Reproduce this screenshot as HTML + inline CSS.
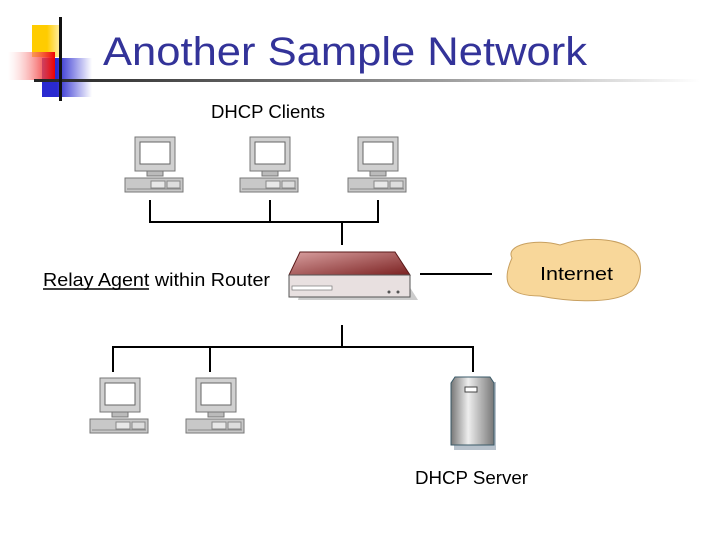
<!DOCTYPE html>
<html><head><style>body{margin:0;background:#fff}svg{display:block}</style></head><body>
<svg width="720" height="540" viewBox="0 0 720 540" xmlns="http://www.w3.org/2000/svg" font-family="Liberation Sans, sans-serif">
<defs>
<linearGradient id="red" x1="1" x2="0"><stop offset="0" stop-color="#e00"/><stop offset="1" stop-color="#fff" stop-opacity="0.3"/></linearGradient>
<linearGradient id="blue" x1="0" x2="1"><stop offset="0.3" stop-color="#2a2ad0"/><stop offset="1" stop-color="#fff"/></linearGradient>
<linearGradient id="yel" x1="0" x2="1"><stop offset="0.5" stop-color="#ffcc00"/><stop offset="1" stop-color="#fff3c0"/></linearGradient>
<linearGradient id="hl" x1="0" x2="1"><stop offset="0" stop-color="#222"/><stop offset="0.6" stop-color="#999"/><stop offset="1" stop-color="#fff"/></linearGradient>
<linearGradient id="rt" x1="0" y1="0" x2="1" y2="1"><stop offset="0" stop-color="#d9a0a0"/><stop offset="1" stop-color="#7a2020"/></linearGradient>
<linearGradient id="srv" x1="0" x2="1"><stop offset="0" stop-color="#777"/><stop offset="0.4" stop-color="#eee"/><stop offset="1" stop-color="#777"/></linearGradient>
<g id="pc">
<rect x="10" y="0" width="40" height="34" fill="#d0d0d0" stroke="#777"/>
<rect x="15" y="5" width="30" height="22" fill="#fff" stroke="#666"/>
<rect x="22" y="34" width="16" height="5" fill="#bbb" stroke="#777"/>
<rect x="0" y="41" width="58" height="14" fill="#c8c8c8" stroke="#777"/>
<rect x="26" y="44" width="14" height="7" fill="#e8e8e8" stroke="#888"/>
<rect x="42" y="44" width="13" height="7" fill="#ddd" stroke="#888"/>
<line x1="2" y1="52" x2="56" y2="52" stroke="#888"/>
</g>
</defs>
<rect x="32" y="25" width="30" height="32" fill="url(#yel)"/>
<rect x="42" y="58" width="50" height="39" fill="url(#blue)"/>
<rect x="8" y="52" width="47" height="28" fill="url(#red)"/>
<rect x="34" y="79" width="666" height="3" fill="url(#hl)"/>
<rect x="59" y="17" width="3" height="84" fill="#111"/>
<text x="103" y="65" font-size="40" fill="#333399" textLength="484" lengthAdjust="spacingAndGlyphs">Another Sample Network</text>
<text x="211" y="118" font-size="18" fill="#000" textLength="114" lengthAdjust="spacingAndGlyphs">DHCP Clients</text>
<use href="#pc" x="125" y="137"/><use href="#pc" x="240" y="137"/><use href="#pc" x="348" y="137"/>
<g stroke="#000" stroke-width="2" fill="none">
<path d="M150 200V222H378V200M270 200V222M342 222V245"/>
<path d="M420 274H492"/>
<path d="M342 325V347M113 372V347H473V372M210 347V372"/>
</g>
<path d="M298 256 L398 256 L412 278 L292 278 Z" fill="#555" opacity="0.3" transform="translate(6,22)"/>
<path d="M300 252 L395 252 L410 275 L289 275 Z" fill="url(#rt)" stroke="#5a1a1a"/>
<rect x="289" y="275" width="121" height="22" fill="#e8e0e0" stroke="#555"/>
<rect x="292" y="286" width="40" height="4" fill="#fff" stroke="#777" stroke-width="0.7"/>
<circle cx="389" cy="292" r="1.5" fill="#555"/><circle cx="398" cy="292" r="1.5" fill="#555"/>
<path d="M512 258 C505 245 535 238 560 245 C585 236 620 238 632 250 C645 258 642 285 630 292 C610 306 560 300 540 296 C510 296 500 285 512 258 Z" fill="#f8d79a" stroke="#c8a060"/>
<text x="540" y="280" font-size="18" fill="#000" textLength="73" lengthAdjust="spacingAndGlyphs">Internet</text>
<text x="43" y="286" font-size="18" fill="#000" textLength="227" lengthAdjust="spacingAndGlyphs">Relay Agent within Router</text>
<line x1="43" y1="289" x2="149" y2="289" stroke="#000" stroke-width="1.5"/>
<use href="#pc" x="90" y="378"/><use href="#pc" x="186" y="378"/>
<rect x="454" y="382" width="42" height="68" fill="#8899aa" opacity="0.6"/>
<path d="M451 383 L455 377 L490 377 L494 383 L494 445 L451 445 Z" fill="url(#srv)" stroke="#3a5a68"/>
<rect x="465" y="387" width="12" height="5" fill="#fff" stroke="#444"/>
<text x="415" y="484" font-size="18" fill="#000" textLength="113" lengthAdjust="spacingAndGlyphs">DHCP Server</text>
</svg>
</body></html>
